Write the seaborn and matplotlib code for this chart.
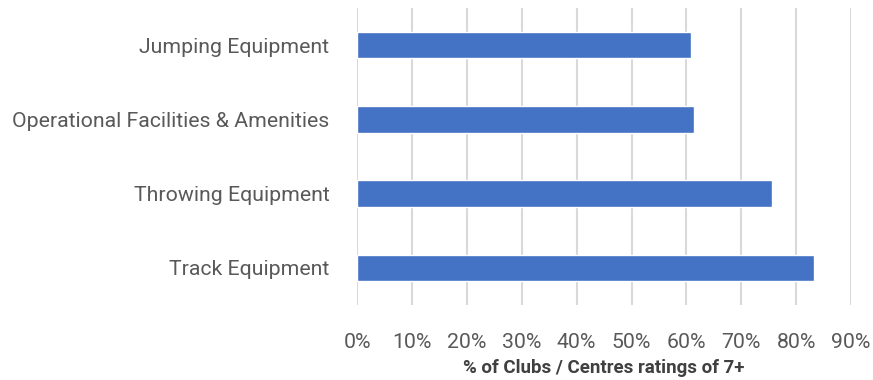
import matplotlib
matplotlib.use("Agg")
import matplotlib.pyplot as plt
import seaborn as sns
import pandas as pd
from matplotlib.ticker import PercentFormatter

categories = ["Jumping Equipment", "Operational Facilities & Amenities",
              "Throwing Equipment", "Track Equipment"]
values = [0.608, 0.614, 0.756, 0.833]
xticks = [0, 0.1, 0.2, 0.3, 0.4, 0.5, 0.6, 0.7, 0.8, 0.9]
xlabel = "% of Clubs / Centres ratings of 7+"

sns.set_theme(style="white")
plt.rcParams['font.family'] = ['Roboto', 'DejaVu Sans']

df = pd.DataFrame({"cat": categories, "val": values})

fig = plt.figure(figsize=(8.73, 3.80), dpi=100)
ax = fig.add_axes([0.409, 0.197, 0.566, 0.782])
sns.barplot(data=df, y="cat", x="val", color="#4472C4", saturation=1,
            width=0.36, ax=ax, zorder=3)
ax.set_xlim(0, 0.9)
ax.set_ylim(3.5, -0.5)
ax.set_xticks(xticks)
ax.xaxis.set_major_formatter(PercentFormatter(1.0, decimals=0))
ax.grid(axis="x", color="#d9d9d9", linewidth=1.5, zorder=0)
ax.grid(axis="y", visible=False)
for s in ax.spines.values():
    s.set_visible(False)
ax.tick_params(axis="x", length=0, pad=20, labelsize=15.3, labelcolor="#595959")
ax.tick_params(axis="y", length=0, pad=20, labelsize=15.3, labelcolor="#595959")
ax.set_ylabel("")
ax.set_xlabel(xlabel, fontsize=13.5, fontweight="bold", color="#404040", labelpad=5)

fig.savefig("out.png", dpi=100)
